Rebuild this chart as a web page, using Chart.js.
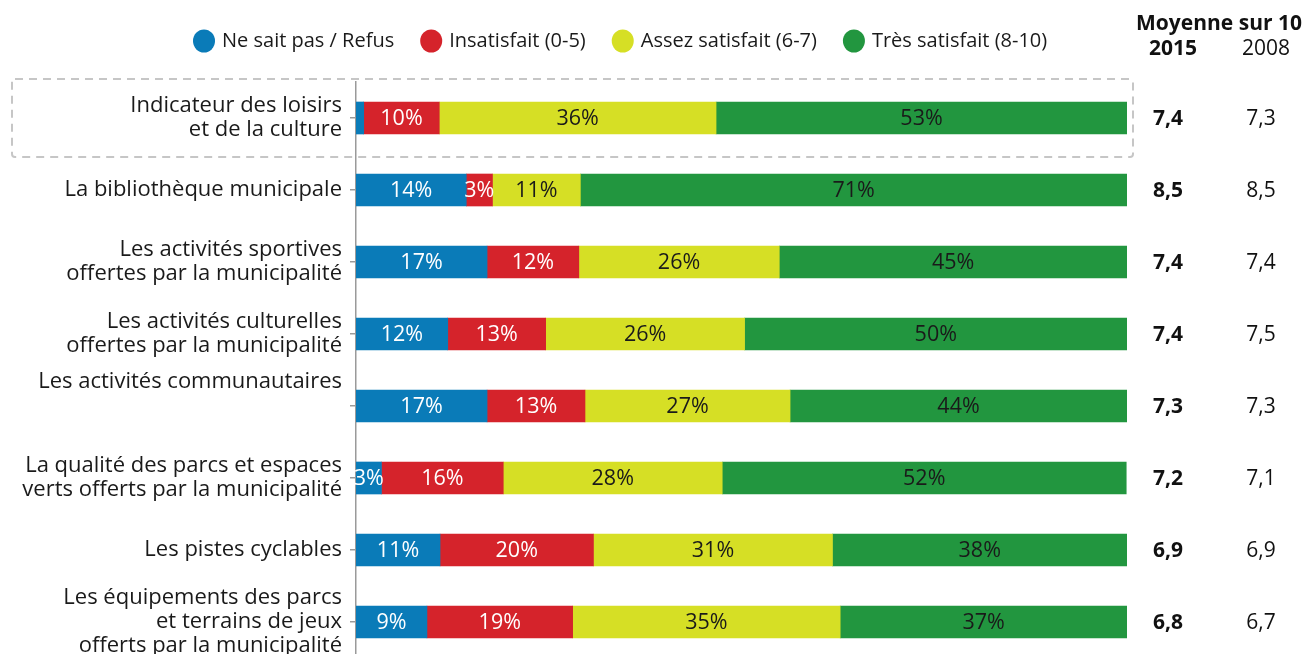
<!DOCTYPE html>
<html><head><meta charset="utf-8">
<script src="https://cdn.jsdelivr.net/npm/chart.js@4.4.1/dist/chart.umd.min.js"></script>
<style>html,body{margin:0;padding:0;background:#fff;overflow:hidden;}#wrap{width:1304px;height:654px;overflow:hidden;}</style>
</head><body><div id="wrap"><canvas id="c" width="1304" height="660"></canvas></div>
<script>
const categories = [
  ["Indicateur des loisirs", "et de la culture"],
  ["La bibliothèque municipale"],
  ["Les activités sportives", "offertes par la municipalité"],
  ["Les activités culturelles", "offertes par la municipalité"],
  ["Les activités communautaires", "", ""],
  ["La qualité des parcs et espaces", "verts offerts par la municipalité"],
  ["Les pistes cyclables"],
  ["Les équipements des parcs", "et terrains de jeux", "offerts par la municipalité"]
];
const seriesNames = ["Ne sait pas / Refus", "Insatisfait (0-5)", "Assez satisfait (6-7)", "Très satisfait (8-10)"];
const nsp   = [1.0, 14.3, 17.0, 11.9, 17.0, 3.3, 10.9, 9.2];
const insat = [9.8, 3.4, 11.9, 12.7, 12.7, 15.8, 19.9, 18.9];
const assez = [35.9, 11.4, 26.0, 25.8, 26.6, 28.4, 31.0, 34.7];
const tres  = [53.3, 70.9, 45.1, 49.6, 43.7, 52.4, 38.2, 37.2];
const moy2015 = [7.4, 8.5, 7.4, 7.4, 7.3, 7.2, 6.9, 6.8];
const moy2008 = [7.3, 8.5, 7.4, 7.5, 7.3, 7.1, 6.9, 6.7];
const headerTitle = "Moyenne sur 10";
const headerYears = ["2015", "2008"];

const colors = ["#0a7bb8", "#d5232b", "#d6df25", "#22963f"];
const labelColors = ["#ffffff", "#ffffff", "#1a1a1a", "#1a1a1a"];
const FONT = "'Open Sans', sans-serif";
const fmt = v => v.toFixed(1).replace('.', ',');

const overlay = {
  id: 'overlay',
  beforeDatasetsDraw(chart) {
    const ctx = chart.ctx, y = chart.scales.y;
    const yc = y.getPixelForValue(0);
    ctx.save();
    ctx.strokeStyle = '#c6c6c6';
    ctx.lineWidth = 2;
    ctx.setLineDash([8, 6]);
    ctx.beginPath();
    if (ctx.roundRect) ctx.roundRect(12, yc - 39, 1121, 78, 3); else ctx.rect(12, yc - 39, 1121, 78);
    ctx.stroke();
    ctx.restore();
  },
  afterDatasetsDraw(chart) {
    const ctx = chart.ctx;
    ctx.save();
    ctx.font = "21.5px " + FONT;
    ctx.textAlign = 'center';
    ctx.textBaseline = 'middle';
    chart.data.datasets.forEach((ds, i) => {
      const meta = chart.getDatasetMeta(i);
      ctx.fillStyle = labelColors[i];
      meta.data.forEach((bar, j) => {
        const v = ds.data[j];
        if (v < 2) return;
        ctx.fillText(Math.round(v) + '%', (bar.x + bar.base) / 2, bar.y + 1);
      });
    });
    ctx.restore();
  },
  afterDraw(chart) {
    const ctx = chart.ctx, y = chart.scales.y;
    ctx.save();
    // legend
    ctx.font = "20px " + FONT;
    ctx.textBaseline = 'middle';
    let x = 193;
    const ly = 41;
    chart.data.datasets.forEach((ds, i) => {
      ctx.fillStyle = colors[i];
      ctx.beginPath();
      ctx.ellipse(x + 11, ly, 11, 11.5, 0, 0, Math.PI * 2);
      ctx.fill();
      ctx.fillStyle = '#1a1a1a';
      ctx.textAlign = 'left';
      const tx = x + 29;
      ctx.fillText(ds.label, tx, ly);
      x = tx + ctx.measureText(ds.label).width + 26;
    });
    // right columns
    ctx.textAlign = 'center';
    ctx.fillStyle = '#111';
    ctx.font = "bold 21px " + FONT;
    ctx.fillText(headerTitle, 1219, 24);
    ctx.fillText(headerYears[0], 1173, 49);
    ctx.font = "21px " + FONT;
    ctx.fillText(headerYears[1], 1266, 49);
    moy2015.forEach((v, j) => {
      const py = y.getPixelForValue(j) + 1;
      ctx.font = "bold 21px " + FONT;
      ctx.fillText(fmt(v), 1168, py);
      ctx.font = "21px " + FONT;
      ctx.fillText(fmt(moy2008[j]), 1261, py);
    });
    ctx.restore();
  }
};

const seriesData = [nsp, insat, assez, tres];
new Chart(document.getElementById('c'), {
  type: 'bar',
  data: {
    labels: categories,
    datasets: seriesNames.map((name, i) => ({
      label: name,
      data: seriesData[i],
      backgroundColor: colors[i],
      borderWidth: 0,
      barThickness: 32
    }))
  },
  options: {
    indexAxis: 'y',
    responsive: false,
    animation: false,
    layout: { padding: { top: 82, right: 177, bottom: 2, left: 0 } },
    plugins: { legend: { display: false }, tooltip: { enabled: false } },
    scales: {
      x: { stacked: true, min: 0, max: 100, display: false },
      y: {
        stacked: true,
        afterFit(s) { s.width = 356; s.paddingTop = 0; s.paddingBottom = 0; },
        grid: { offset: false, drawOnChartArea: false, tickLength: 6, color: '#9a9a9a', lineWidth: 1.5 },
        border: { color: '#9a9a9a', width: 1.5 },
        ticks: { font: { family: FONT, size: 22, lineHeight: '24px' }, color: '#1a1a1a', padding: 8, autoSkip: false }
      }
    }
  },
  plugins: [overlay]
});
</script>
</body></html>
